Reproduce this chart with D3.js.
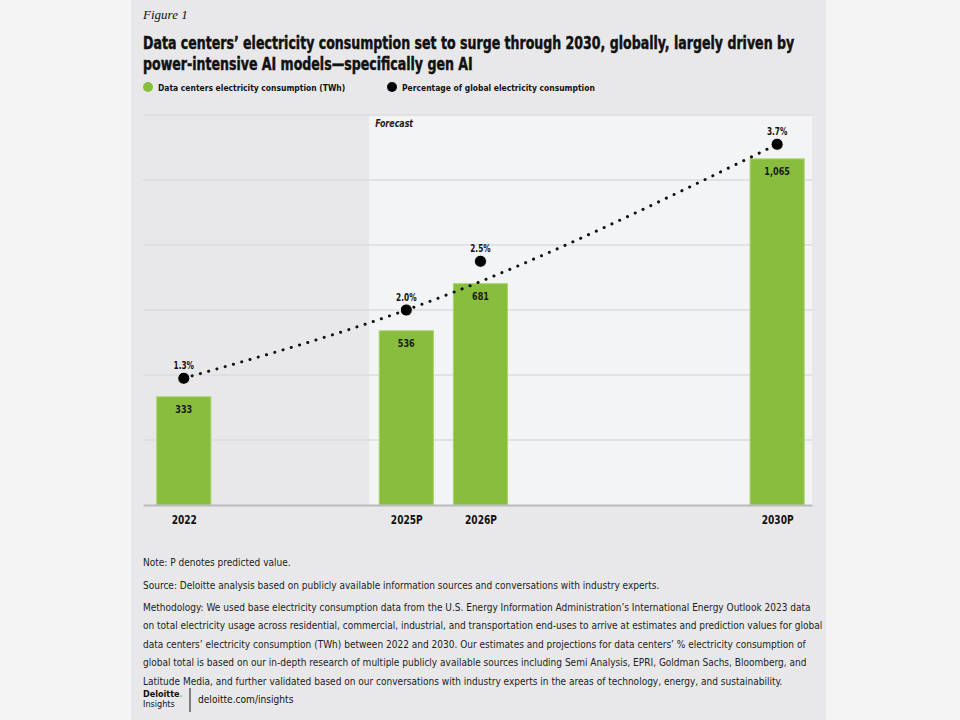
<!DOCTYPE html>
<html>
<head>
<meta charset="utf-8">
<script src="https://cdn.jsdelivr.net/npm/d3@7"></script>
<style>
  html, body { margin: 0; padding: 0; background: #f4f4f5; }
  svg { display: block; }
  .cond { font-family: "DejaVu Sans Condensed", "DejaVu Sans", sans-serif; font-stretch: condensed; }
</style>
</head>
<body>
<div id="chart"></div>
<script>
// data
const years = [2022, 2025, 2026, 2030];
const yearLabels = ["2022", "2025P", "2026P", "2030P"];
const consumption = [333, 536, 681, 1065];          // TWh
const consumptionLabels = ["333", "536", "681", "1,065"];
const share = [1.3, 2.0, 2.5, 3.7];                 // % of global electricity
const shareLabels = ["1.3%", "2.0%", "2.5%", "3.7%"];
const trendYears = [2022, 2025, 2030];
const trendShare = [1.3, 2.0, 3.7];
const gridTicks = [0, 200, 400, 600, 800, 1000, 1200];
const forecastStart = 2024.5;

const width = 960, height = 720;
const green = "#88bd3d";

const svg = d3.select("#chart").append("svg")
  .attr("width", width)
  .attr("height", height);

// grey card
svg.append("rect")
  .attr("x", 131).attr("y", 0)
  .attr("width", 695).attr("height", height)
  .attr("fill", "#e8e8ea");

const x = d3.scaleLinear().domain([2021.45, 2030.47]).range([143, 812]);
const y = d3.scaleLinear().domain([0, 1200]).range([505, 115]);
const yPct = d3.scaleLinear().domain([0, 4]).range([505, 115]);
const barW = (x(1) - x(0)) * 0.73;

// forecast shading
svg.append("rect")
  .attr("x", x(forecastStart)).attr("y", y(1200))
  .attr("width", x.range()[1] - x(forecastStart))
  .attr("height", y(0) - y(1200))
  .attr("fill", "#f3f4f6");

svg.append("text")
  .attr("class", "cond")
  .attr("transform", `translate(${x(forecastStart) + 6},${y(1200) + 12}) scale(0.88,1)`)
  .attr("font-size", 10).attr("font-style", "italic").attr("font-weight", "bold")
  .attr("fill", "#222")
  .text("Forecast");

// gridlines
svg.append("g")
  .selectAll("line")
  .data(gridTicks.filter(d => d > 0))
  .join("line")
  .attr("x1", x.range()[0]).attr("x2", x.range()[1])
  .attr("y1", d => y(d)).attr("y2", d => y(d))
  .attr("stroke", "#dcdddf").attr("stroke-width", 1.5);

// bars
svg.append("g")
  .selectAll("rect")
  .data(years)
  .join("rect")
  .attr("x", d => x(d) - barW / 2)
  .attr("y", (d, i) => y(consumption[i]))
  .attr("width", barW)
  .attr("height", (d, i) => y(0) - y(consumption[i]))
  .attr("fill", green)
  .attr("stroke", "#a9d46a").attr("stroke-width", 1);

svg.append("g")
  .selectAll("text")
  .data(years)
  .join("text")
  .attr("class", "cond")
  .attr("transform", (d, i) => `translate(${x(d)},${y(consumption[i]) + 16}) scale(0.82,1)`)
  .attr("text-anchor", "middle")
  .attr("font-size", 11).attr("font-weight", "bold")
  .attr("fill", "#1a1a1a")
  .text((d, i) => consumptionLabels[i]);

// baseline axis
const xAxis = svg.append("g")
  .attr("transform", `translate(0,${y(0)})`)
  .call(d3.axisBottom(x).tickValues(years).tickSize(0).tickPadding(10)
    .tickFormat((d, i) => yearLabels[i]));
xAxis.select(".domain").attr("stroke", "#b9babd").attr("stroke-width", 2);
xAxis.selectAll("text")
  .attr("class", "cond")
  .attr("transform", "scale(0.84,1)")
  .attr("font-size", 12).attr("font-weight", "bold")
  .attr("fill", "#111");

// dotted trend
const trend = d3.line()
  .x(d => x(d))
  .y((d, i) => yPct(trendShare[i]))
  .curve(d3.curveMonotoneX);
svg.append("path")
  .attr("d", trend(trendYears))
  .attr("fill", "none")
  .attr("stroke", "#111")
  .attr("stroke-width", 3)
  .attr("stroke-linecap", "round")
  .attr("stroke-dasharray", "0.1,8.5");

// share dots
svg.append("g")
  .selectAll("circle")
  .data(years)
  .join("circle")
  .attr("cx", d => x(d))
  .attr("cy", (d, i) => yPct(share[i]))
  .attr("r", 6)
  .attr("fill", "#000")
  .attr("stroke", "#fff").attr("stroke-width", 0.8);

svg.append("g")
  .selectAll("text")
  .data(years)
  .join("text")
  .attr("class", "cond")
  .attr("transform", (d, i) => `translate(${x(d)},${yPct(share[i]) - 9}) scale(0.82,1)`)
  .attr("text-anchor", "middle")
  .attr("font-size", 10).attr("font-weight", "bold")
  .attr("fill", "#111")
  .text((d, i) => shareLabels[i]);

// heading
svg.append("text")
  .attr("x", 143).attr("y", 19)
  .attr("font-family", "'Liberation Serif', 'DejaVu Serif', serif")
  .attr("font-style", "italic").attr("font-size", 13)
  .attr("fill", "#111")
  .text("Figure 1");

const title = svg.append("text")
  .attr("class", "cond")
  .attr("transform", "translate(143,0) scale(0.823,1)")
  .attr("font-size", 17).attr("font-weight", "bold")
  .attr("fill", "#111").attr("stroke", "#111").attr("stroke-width", 0.45);
title.append("tspan").attr("x", 0).attr("y", 49)
  .text("Data centers\u2019 electricity consumption set to surge through 2030, globally, largely driven by");
title.append("tspan").attr("x", 0).attr("y", 70)
  .text("power-intensive AI models\u2014specifically gen AI");

// legend
const legend = [
  { label: "Data centers electricity consumption (TWh)", color: green, cx: 148 },
  { label: "Percentage of global electricity consumption", color: "#000", cx: 392 }
];
const lg = svg.append("g").selectAll("g").data(legend).join("g")
  .attr("transform", d => `translate(${d.cx},87)`);
lg.append("circle").attr("r", 5).attr("fill", d => d.color);
lg.append("text")
  .attr("class", "cond")
  .attr("transform", "translate(10,3.5) scale(0.89,1)")
  .attr("font-size", 9.5).attr("font-weight", "bold")
  .attr("fill", "#111")
  .text(d => d.label);

// footer notes
const notes = [
  "Note: P denotes predicted value.",
  "Source: Deloitte analysis based on publicly available information sources and conversations with industry experts."
];
const method = [
  "Methodology: We used base electricity consumption data from the U.S. Energy Information Administration\u2019s International Energy Outlook 2023 data",
  "on total electricity usage across residential, commercial, industrial, and transportation end-uses to arrive at estimates and prediction values for global",
  "data centers\u2019 electricity consumption (TWh) between 2022 and 2030. Our estimates and projections for data centers\u2019 % electricity consumption of",
  "global total is based on our in-depth research of multiple publicly available sources including Semi Analysis, EPRI, Goldman Sachs, Bloomberg, and",
  "Latitude Media, and further validated based on our conversations with industry experts in the areas of technology, energy, and sustainability."
];
const footer = svg.append("g").attr("transform", "translate(143,0) scale(0.955,1)");
footer.append("g").selectAll("text").data(notes).join("text")
  .attr("class", "cond")
  .attr("x", 0).attr("y", (d, i) => 566 + i * 23)
  .attr("font-size", 10.5).attr("fill", "#222")
  .text(d => d);
footer.append("g").selectAll("text").data(method).join("text")
  .attr("class", "cond")
  .attr("x", 0).attr("y", (d, i) => 611 + i * 18.5)
  .attr("font-size", 10.5).attr("fill", "#222")
  .text(d => d);

// logo
svg.append("text").attr("class", "cond")
  .attr("x", 143).attr("y", 697)
  .attr("font-size", 9).attr("font-weight", "bold").attr("fill", "#111")
  .text("Deloitte")
  .append("tspan").attr("fill", green).text(".");
svg.append("text").attr("class", "cond")
  .attr("x", 143).attr("y", 707)
  .attr("font-size", 9).attr("fill", "#111")
  .text("Insights");
svg.append("line")
  .attr("x1", 190).attr("x2", 190).attr("y1", 688).attr("y2", 712)
  .attr("stroke", "#111").attr("stroke-width", 1);
svg.append("text").attr("class", "cond")
  .attr("transform", "translate(198,703) scale(0.92,1)")
  .attr("font-size", 11).attr("fill", "#111")
  .text("deloitte.com/insights");
</script>
</body>
</html>
